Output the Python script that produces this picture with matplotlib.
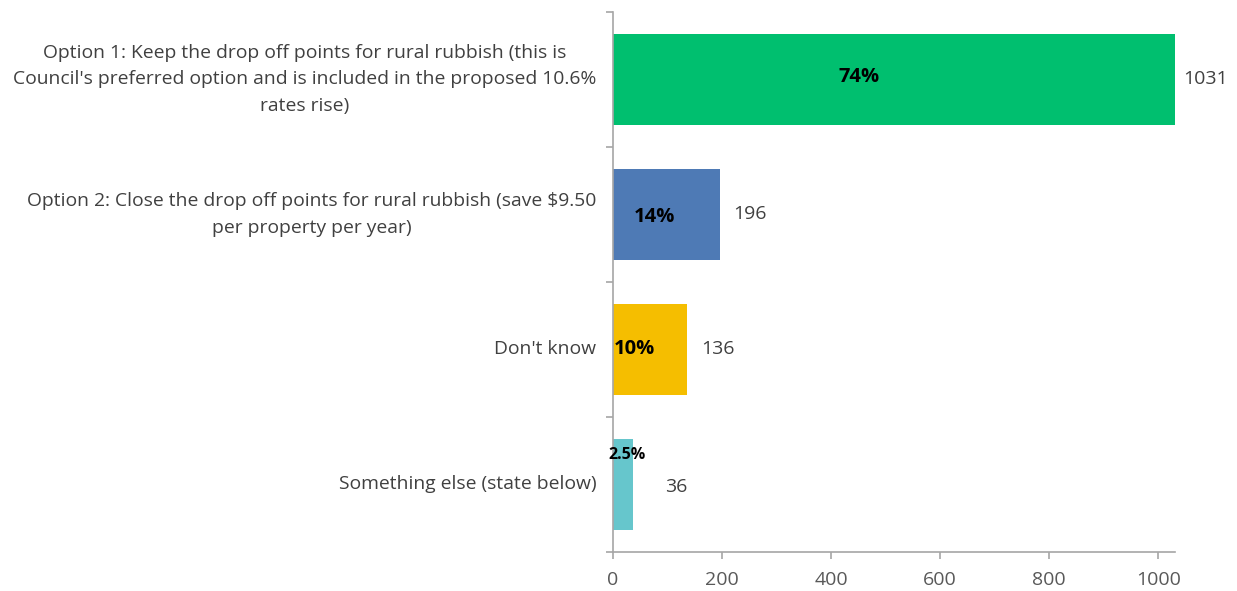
import matplotlib.pyplot as plt

# survey answers, top to bottom
options = [
    "Option 1: Keep the drop off points for rural rubbish (this is\n"
    "Council's preferred option and is included in the proposed 10.6%\n"
    "rates rise)",
    "Option 2: Close the drop off points for rural rubbish (save $9.50\n"
    "per property per year)",
    "Don't know",
    "Something else (state below)",
]
counts = [1031, 196, 136, 36]
shares = ["74%", "14%", "10%", "2.5%"]
colors = ["#00BF6F", "#4E7AB5", "#F5BE00", "#66C6CC"]

# where the share text sits in each bar (data x, y shift)
share_x = [452, 75, 40, 26]
share_dy = [-0.02, 0.02, 0.0, -0.22]
# gap in pixels between bar end and the count label
count_gap = [8, 13, 14, 32]
count_dy = [0.0, 0.0, 0.0, 0.02]

plt.rcParams['font.family'] = ['Open Sans', 'DejaVu Sans']

fig = plt.figure(figsize=(12.37, 5.91), dpi=100)
ax = fig.add_axes([0.4956, 0.066, 0.4544, 0.9137])

pos = list(range(len(counts)))
ax.barh(pos, counts, height=0.67, color=colors)

ax.set_xlim(0, 1031)
ax.set_ylim(len(counts) - 0.5, -0.5)

for i, c in enumerate(counts):
    ax.annotate(str(c), (c, i + count_dy[i]), xytext=(count_gap[i], 0),
                textcoords='offset pixels', ha='left', va='center',
                fontsize=14, color='#404040')
    ax.text(share_x[i], i + share_dy[i], shares[i], ha='center', va='center',
            fontsize=14.5 if i < 3 else 11.5, fontweight='bold', color='black')

# boundary ticks on the category axis, labels in between
ax.set_yticks([p - 0.5 for p in pos] + [pos[-1] + 0.5])
ax.set_yticklabels([])
ax.set_yticks(pos, minor=True)
ax.set_yticklabels(options, minor=True, ha='right', va='center',
                   multialignment='center', fontsize=13.9, color='#404040',
                   linespacing=1.62)
ax.tick_params(axis='y', which='minor', length=0, pad=12)
ax.tick_params(axis='y', which='major', length=5, color='#A6A6A6', width=1.2)

ax.set_xticks(range(0, 1001, 200))
ax.tick_params(axis='x', length=5, color='#A6A6A6', width=1.2,
               labelsize=14, labelcolor='#595959', pad=9)

for s in ['top', 'right']:
    ax.spines[s].set_visible(False)
for s in ['left', 'bottom']:
    ax.spines[s].set_color('#A6A6A6')
    ax.spines[s].set_linewidth(1.2)

fig.savefig('out.png', dpi=100)
